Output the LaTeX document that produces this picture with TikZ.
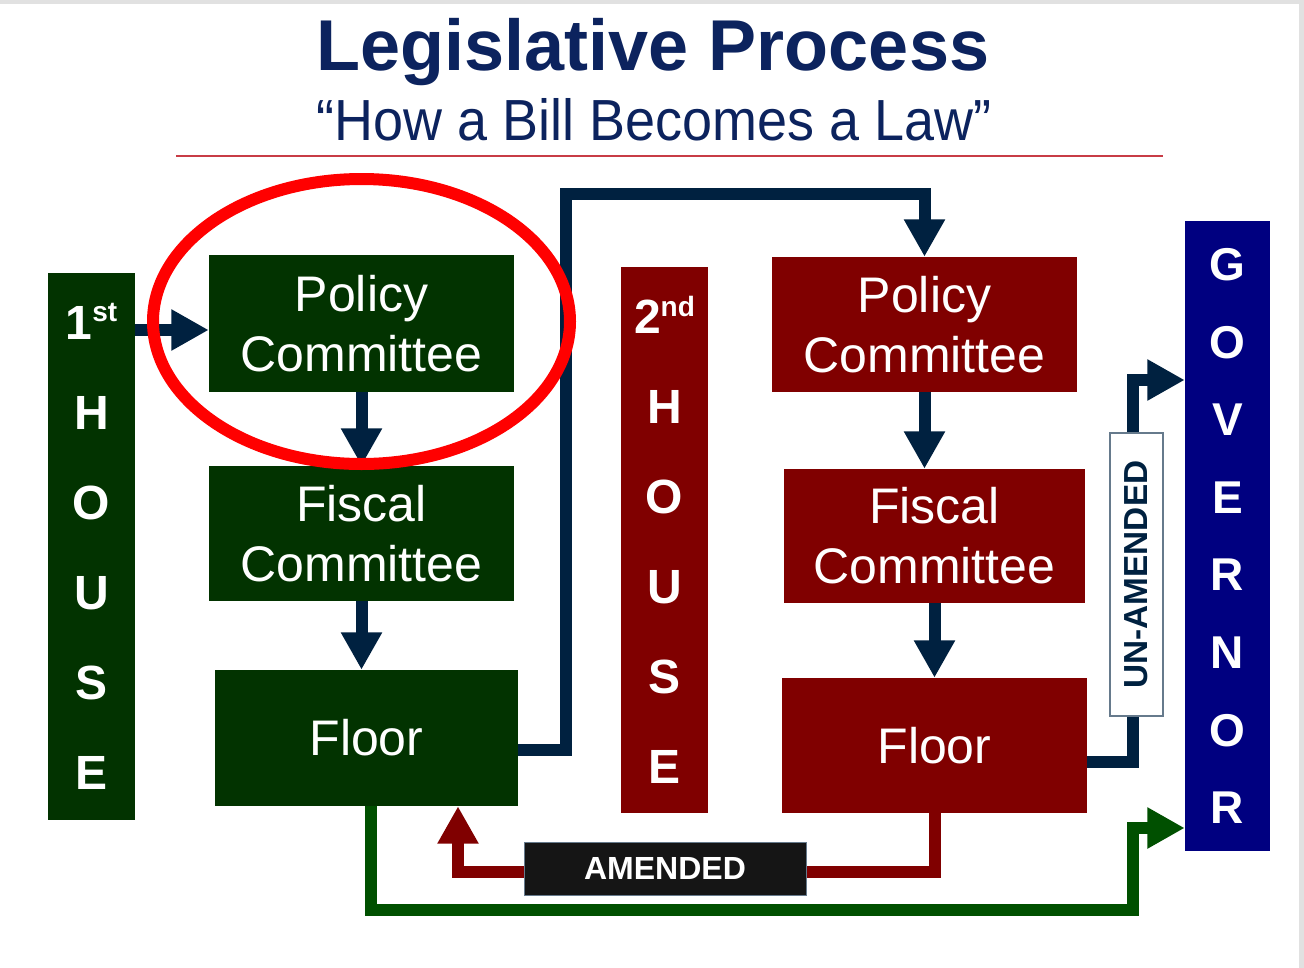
\documentclass[tikz,border=0pt]{standalone}
\usepackage{fontspec}
\setmainfont{Liberation Sans}
\usetikzlibrary{arrows.meta}
\definecolor{titleblue}{RGB}{12,35,94}
\definecolor{boxgreen}{RGB}{2,51,0}
\definecolor{boxred}{RGB}{128,0,0}
\definecolor{navyline}{RGB}{0,33,64}
\definecolor{govblue}{RGB}{0,0,128}
\definecolor{greenline}{RGB}{0,80,0}
\definecolor{amblack}{RGB}{21,21,21}
\definecolor{rulered}{RGB}{200,60,70}
\definecolor{ringred}{RGB}{255,0,0}
\definecolor{framegray}{RGB}{225,225,225}
\begin{document}
\begin{tikzpicture}[x=0.75pt,y=-0.75pt,
  cbox/.style={inner sep=0pt, text=white, align=center,
    font=\fontsize{37.5}{45}\selectfont},
  gbox/.style={cbox, fill=boxgreen},
  rbox/.style={cbox, fill=boxred},
  housebox/.style={inner sep=0pt, text=white, align=center,
    font=\fontsize{36}{67.5}\selectfont\bfseries},
  govbox/.style={inner sep=0pt, text=white, align=center, fill=govblue,
    font=\fontsize{34.5}{58.2}\selectfont\bfseries},
  conn/.style={line width=9pt, line join=miter},
  tip/.style={-{Triangle[length=28pt,width=29pt]}},
  navyarrow/.style={conn, draw=navyline, tip},
  greenarrow/.style={conn, draw=greenline, tip},
  redarrow/.style={conn, draw=boxred, tip},
  navyplain/.style={conn, draw=navyline}
]
\useasboundingbox (0,0) rectangle (1304,968);
\fill[framegray] (0,0) rectangle (1304,968);
\fill[white] (0,4) rectangle (1299,968);

% titles
\node[anchor=base, text=titleblue, inner sep=0pt,
  font=\fontsize{54}{60}\selectfont\bfseries] (title) at (653,70) {Legislative Process};
\node[anchor=base, text=titleblue, inner sep=0pt,
  font=\fontsize{43.5}{50}\selectfont] (subtitle) at (654,140) {\scalebox{0.93}[1]{“How a Bill Becomes a Law”}};
\draw[rulered, line width=1.5pt] (176,156) -- (1163,156);

% first house
\node[housebox, fill=boxgreen, minimum width=87*0.75pt, minimum height=547*0.75pt] (h1) at (91.5,546.5)
  {1\raisebox{13pt}{\fontsize{21}{21}\selectfont st}\\H\\O\\U\\S\\E};
\node[gbox, minimum width=305*0.75pt, minimum height=137*0.75pt] (pc1) at (361.5,323.5) {Policy\\Committee};
\node[gbox, minimum width=305*0.75pt, minimum height=135*0.75pt] (fc1) at (361.5,533.5) {Fiscal\\Committee};
\node[gbox, minimum width=303*0.75pt, minimum height=136*0.75pt] (fl1) at (366.5,738) {Floor};

% second house
\node[housebox, fill=boxred, minimum width=87*0.75pt, minimum height=546*0.75pt] (h2) at (664.5,540)
  {2\raisebox{13pt}{\fontsize{21}{21}\selectfont nd}\\H\\O\\U\\S\\E};
\node[rbox, minimum width=305*0.75pt, minimum height=135*0.75pt] (pc2) at (924.5,324.5) {Policy\\Committee};
\node[rbox, minimum width=301*0.75pt, minimum height=134*0.75pt] (fc2) at (934.5,536) {Fiscal\\Committee};
\node[rbox, minimum width=305*0.75pt, minimum height=135*0.75pt] (fl2) at (934.5,745.5) {Floor};

% governor
\node[govbox, minimum width=85*0.75pt, minimum height=630*0.75pt] (gov) at (1227.5,536)
  {G\\O\\V\\E\\R\\N\\O\\R};

% junction points
\coordinate (j1) at (566,194);
\coordinate (j2) at (1133,380);
\coordinate (g1) at (1133,910);
\coordinate (g2) at (1133,828);
\coordinate (a1) at (458,872);

% connectors
\draw[navyarrow] (h1.east |- 0,330) -- (pc1.west |- 0,330);
\draw[navyarrow] (pc1.south) -- (fc1.north);
\draw[navyarrow] (fc1.south) -- (fc1.south |- fl1.north);
\draw[navyarrow] ([yshift=-9pt]fl1.east) -| (j1) -| (pc2.north);
\draw[navyarrow] (pc2.south) -- (pc2.south |- fc2.north);
\draw[navyarrow] (fc2.south) -- (fc2.south |- fl2.north);
\draw[navyarrow] ([yshift=-12pt]fl2.east) -| (j2) -- (j2 -| gov.west);
\draw[greenarrow] ([xshift=3pt]fl1.south) |- (g1) -- (g2) -- (g2 -| gov.west);
\draw[redarrow] (fl2.south) |- (a1) -- (a1 |- fl1.south);

% labels on connectors
\node[fill=white, draw=navyline!60, line width=1pt, rotate=90, inner sep=0pt,
  minimum width=283*0.75pt, minimum height=53*0.75pt, text=navyline,
  font=\fontsize{25}{25}\selectfont\bfseries] (un) at (1136.5,574.5) {UN-AMENDED};
\node[fill=amblack, draw=navyline!60, line width=0.75pt, inner sep=0pt,
  minimum width=282*0.75pt, minimum height=53*0.75pt, text=white,
  font=\fontsize{24}{24}\selectfont\bfseries] (am) at (665,868.5) {AMENDED};

% highlight ring
\draw[ringred, line width=9pt] (361.5,321.5) ellipse [x radius=208.5*0.75pt, y radius=142.5*0.75pt];
\end{tikzpicture}
\end{document}
